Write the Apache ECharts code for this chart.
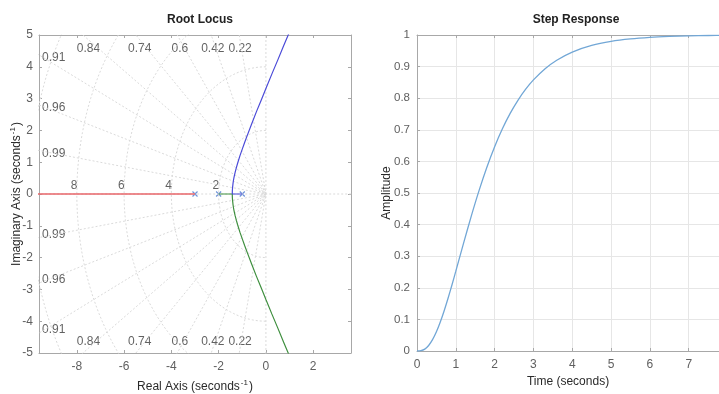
<!DOCTYPE html>
<html>
<head>
<meta charset="utf-8">
<script src="https://cdn.jsdelivr.net/npm/echarts@6/dist/echarts.min.js"></script>
<style>html,body{margin:0;padding:0;background:#fff}#c{width:719px;height:394px}</style>
</head>
<body>
<div id="c"></div>
<script>
// ---- Root locus data ----
const zetaValues = [0.22, 0.42, 0.6, 0.74, 0.84, 0.91, 0.96, 0.99];
const wnValues = [2, 4, 6, 8, 10];
const wnLabelValues = [2, 4, 6, 8];
const poles = [-1, -2, -3];
const breakaway = -1.4226;
// upper complex branch (lower branch is its mirror)
const locusSigma = [-1.4226, -1.42, -1.41, -1.39, -1.37, -1.35, -1.3, -1.25, -1.2, -1.1, -1.0, -0.9, -0.8, -0.6, -0.4, -0.2, 0, 0.25, 0.5, 0.75, 1.0, 1.25];
const locusOmega = [0, 0.10, 0.21, 0.34, 0.44, 0.52, 0.69, 0.83, 0.96, 1.20, 1.41, 1.62, 1.82, 2.21, 2.59, 2.95, 3.32, 3.77, 4.21, 4.66, 5.10, 5.54];
const rlXTicks = [-8, -6, -4, -2, 0, 2];

// ---- Step response data ----
const stepTime = [0, 0.1, 0.2, 0.3, 0.4, 0.5, 0.6, 0.7, 0.8, 0.9, 1.0, 1.2, 1.4, 1.6, 1.8, 2.0, 2.2, 2.4, 2.6, 2.8, 3.0, 3.3, 3.6, 4.0, 4.5, 5.0, 5.5, 6.0, 6.5, 7.0, 7.5, 8.0];
const stepAmp = [0, 0.0009, 0.006, 0.0174, 0.0358, 0.0609, 0.0919, 0.1276, 0.167, 0.209, 0.2526, 0.3412, 0.4277, 0.5083, 0.5816, 0.6465, 0.7031, 0.7518, 0.7932, 0.8284, 0.8579, 0.8934, 0.9203, 0.9461, 0.967, 0.9799, 0.9878, 0.9926, 0.9955, 0.9973, 0.9984, 0.999];

const FONT = 'Liberation Sans';
const frameColor = '#a8a8a8';
const gridLineColor = '#dadada';
const tickLabelColor = '#606060';

const series = [];
const base = {type: 'line', xAxisIndex: 0, yAxisIndex: 0, showSymbol: false, silent: true, animation: false};
const gls = {color: gridLineColor, width: 1, type: [2, 2]};

// axes zero lines
series.push(Object.assign({}, base, {data: [[-20, 0], [20, 0]], lineStyle: gls}));
series.push(Object.assign({}, base, {data: [[0, -20], [0, 20]], lineStyle: gls}));

// damping lines
const R = 20;
zetaValues.forEach(z => {
  const s = Math.sqrt(1 - z * z);
  series.push(Object.assign({}, base, {data: [[-R * z, R * s], [0, 0], [-R * z, -R * s]], lineStyle: gls}));
});
// natural frequency circles
wnValues.forEach(w => {
  const pts = [];
  for (let a = 90; a <= 270; a += 2) {
    const r = a * Math.PI / 180;
    pts.push([w * Math.cos(r), w * Math.sin(r)]);
  }
  series.push(Object.assign({}, base, {data: pts, lineStyle: gls}));
});

// grid labels
const labelData = [];
zetaValues.forEach(z => {
  const s = Math.sqrt(1 - z * z);
  const xTop = -4.85 * z / s;
  if (xTop > -9.2) {
    labelData.push({value: [xTop, 4.58, String(z)]});
    labelData.push({value: [xTop, -4.63, String(z)]});
  } else {
    const yEdge = 9.6 * s / z - 0.1;
    labelData.push({value: [-9.47, yEdge, String(z)], label: {align: 'left'}});
    labelData.push({value: [-9.47, -yEdge, String(z)], label: {align: 'left'}});
  }
});
wnLabelValues.forEach(w => labelData.push({value: [-w - 0.12, 0.26, String(w)]}));
series.push({
  type: 'scatter', xAxisIndex: 0, yAxisIndex: 0, symbolSize: 0, silent: true, animation: false,
  data: labelData,
  label: {show: true, position: 'inside', formatter: p => p.data.value[2], color: '#3a3a3a', fontFamily: FONT, fontSize: 12}
});

// root locus branches
const upper = locusSigma.map((s, i) => [s, locusOmega[i]]);
const lower = locusSigma.map((s, i) => [s, -locusOmega[i]]);
series.push(Object.assign({}, base, {data: [[poles[2], 0], [-20, 0]], lineStyle: {color: '#e8666a', width: 1.3}}));
series.push(Object.assign({}, base, {data: [[poles[1], 0], [breakaway, 0]].concat(lower), lineStyle: {color: '#3f8f3f', width: 1.2}}));
series.push(Object.assign({}, base, {data: [[poles[0], 0], [breakaway, 0]].concat(upper), lineStyle: {color: '#4b4bd8', width: 1.2}}));

// poles
series.push({
  type: 'scatter', xAxisIndex: 0, yAxisIndex: 0, silent: true, animation: false,
  symbol: 'path://M0,0L10,10M10,0L0,10', symbolSize: 5,
  itemStyle: {color: 'none', borderColor: '#4a78d0', borderWidth: 1.2},
  data: poles.map(p => [p, 0])
});

// step response
series.push({
  type: 'line', xAxisIndex: 2, yAxisIndex: 2, showSymbol: false, silent: true, animation: false, smooth: 0.3,
  data: stepTime.map((t, i) => [t, stepAmp[i]]),
  lineStyle: {color: '#72a7d6', width: 1.3}
});

const nameStyle = {
  fontFamily: FONT, fontSize: 12, color: '#2a2a2a',
  rich: {
    a: {fontFamily: FONT, fontSize: 12, color: '#2a2a2a'},
    sup: {fontFamily: FONT, fontSize: 8, color: '#2a2a2a', verticalAlign: 'top', padding: [0, 1, 7, 1]}
  }
};
const lineFrame = {show: true, lineStyle: {color: frameColor, width: 1}, onZero: false};
const tickIn = {show: true, inside: true, length: 3, lineStyle: {color: frameColor}};
const lbl = {color: tickLabelColor, fontFamily: FONT, fontSize: 12};
const lblSmall = {color: tickLabelColor, fontFamily: FONT, fontSize: 11.5};

const option = {
  backgroundColor: '#fff',
  animation: false,
  title: [
    {text: 'Root Locus', left: 195, top: 9, textAlign: 'center', textStyle: {fontFamily: FONT, fontSize: 12, fontWeight: 'bold', color: '#222'}},
    {text: 'Step Response', left: 571, top: 9, textAlign: 'center', textStyle: {fontFamily: FONT, fontSize: 12, fontWeight: 'bold', color: '#222'}}
  ],
  grid: [
    {left: 39, top: 35, width: 312, height: 318, outerBoundsMode: 'none', containLabel: false},
    {left: 417, top: 35, width: 302, height: 316, outerBoundsMode: 'none', containLabel: false}
  ],
  xAxis: [
    {gridIndex: 0, type: 'value', min: -9.6, max: 3.6, position: 'bottom',
     axisLine: lineFrame, axisTick: Object.assign({customValues: rlXTicks}, tickIn),
     axisLabel: Object.assign({customValues: rlXTicks, margin: 8}, lbl), splitLine: {show: false},
     name: '{a|Real Axis (seconds}{sup|-1}{a|)}', nameLocation: 'middle', nameGap: 26, nameTextStyle: nameStyle},
    {gridIndex: 0, type: 'value', min: -9.6, max: 3.6, position: 'top',
     axisLine: lineFrame, axisTick: Object.assign({customValues: rlXTicks}, tickIn),
     axisLabel: {show: false}, splitLine: {show: false}},
    {gridIndex: 1, type: 'value', min: 0, max: 7.78, interval: 1, position: 'bottom',
     axisLine: lineFrame, axisTick: tickIn,
     axisLabel: Object.assign({margin: 8, showMaxLabel: false}, lbl), splitLine: {show: true, lineStyle: {color: '#e6e6e6'}},
     name: 'Time (seconds)', nameLocation: 'middle', nameGap: 24, nameTextStyle: nameStyle},
    {gridIndex: 1, type: 'value', min: 0, max: 7.78, interval: 1, position: 'top',
     axisLine: lineFrame, axisTick: tickIn, axisLabel: {show: false}, splitLine: {show: false}}
  ],
  yAxis: [
    {gridIndex: 0, type: 'value', min: -5, max: 5, interval: 1, position: 'left',
     axisLine: lineFrame, axisTick: tickIn, axisLabel: Object.assign({margin: 6}, lbl), splitLine: {show: false},
     name: '{a|Imaginary Axis (seconds}{sup|-1}{a|)}', nameLocation: 'middle', nameGap: 15, nameRotate: 90,
     nameMoveOverlap: false, nameTextStyle: nameStyle},
    {gridIndex: 0, type: 'value', min: -5, max: 5, interval: 1, position: 'right',
     axisLine: lineFrame, axisTick: tickIn, axisLabel: {show: false}, splitLine: {show: false}},
    {gridIndex: 1, type: 'value', min: 0, max: 1, interval: 0.1, position: 'left',
     axisLine: lineFrame, axisTick: tickIn, axisLabel: Object.assign({margin: 7}, lblSmall),
     splitLine: {show: true, lineStyle: {color: '#e6e6e6'}},
     name: 'Amplitude', nameLocation: 'middle', nameGap: 24, nameRotate: 90,
     nameMoveOverlap: false, nameTextStyle: nameStyle},
    {gridIndex: 1, type: 'value', min: 0, max: 1, interval: 0.1, position: 'right',
     axisLine: {show: false}, axisTick: {show: false}, axisLabel: {show: false}, splitLine: {show: false}}
  ],
  series: series
};

const chart = echarts.init(document.getElementById('c'), null, {renderer: 'canvas'});
chart.setOption(option);
</script>
</body>
</html>
